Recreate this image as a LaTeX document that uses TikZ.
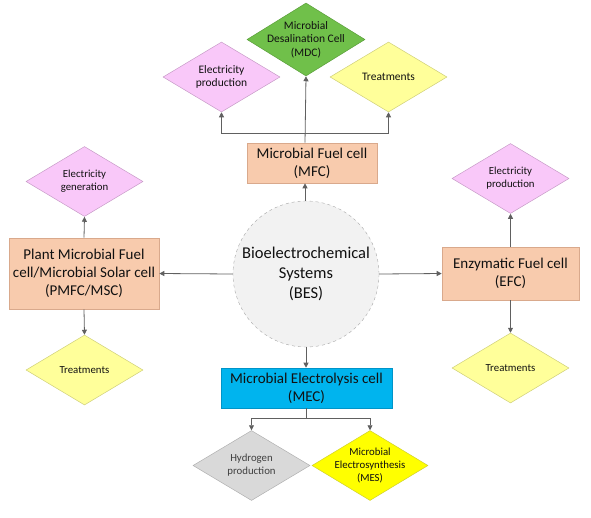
\documentclass[tikz,border=0pt]{standalone}
\usepackage{fontspec}
\setmainfont{Carlito}
\usetikzlibrary{shapes.geometric,arrows.meta}
\definecolor{peach}{HTML}{F8CBAD}
\definecolor{peachb}{HTML}{D9A98C}
\definecolor{pinkf}{HTML}{F9C8F9}
\definecolor{pinkb}{HTML}{C79BC7}
\definecolor{greenf}{HTML}{70C04A}
\definecolor{greenb}{HTML}{5A9E3A}
\definecolor{lyel}{HTML}{FFFF9A}
\definecolor{lyelb}{HTML}{CFCF7A}
\definecolor{grayf}{HTML}{D9D9D9}
\definecolor{grayb}{HTML}{B0B0B0}
\definecolor{yelf}{HTML}{FFFF00}
\definecolor{yelb}{HTML}{CFCF30}
\definecolor{cyanf}{HTML}{00B4EE}
\definecolor{cyanb}{HTML}{0094C8}
\definecolor{arr}{HTML}{606060}
\definecolor{txt}{HTML}{111111}
\tikzset{
  box/.style={draw=#1, line width=0.6pt, rectangle, inner sep=0pt, align=center,
    font=\fontsize{15}{18}\selectfont, text=txt},
  dia/.style={diamond, draw=#1, line width=0.5pt, inner sep=0pt,
    minimum width=117pt, minimum height=70pt},
  dtext/.style={align=center, font=\fontsize{10.8}{13}\selectfont, text=txt, inner sep=0pt},
  conn/.style={draw=arr, line width=0.8pt, -{Triangle[length=5pt,width=5pt]}},
  seg/.style={draw=arr, line width=0.8pt}
}
\begin{document}
\begin{tikzpicture}[x=1pt,y=-1pt]
\useasboundingbox (0,0) rectangle (591,517);
% central circle
\node[circle, draw=gray!70, dashed, fill=black!5, minimum size=146pt, inner sep=0pt,
  align=center, font=\fontsize{16.5}{20}\selectfont, text=txt] (bes) at (306,274)
  {Bioelectrochemical\\Systems\\(BES)};
% boxes
\node[box=peachb, fill=peach, minimum width=130pt, minimum height=40pt] (mfc) at (312,163) {Microbial Fuel cell\\(MFC)};
\node[box=peachb, fill=peach, minimum width=150pt, minimum height=71pt] (pmfc) at (84,273.5) {Plant Microbial Fuel\\cell/Microbial Solar cell\\(PMFC/MSC)};
\node[box=peachb, fill=peach, minimum width=137pt, minimum height=53pt] (efc) at (510.5,273.5) {Enzymatic Fuel cell\\(EFC)};
\node[box=cyanb, fill=cyanf, minimum width=171pt, minimum height=40pt] (mec) at (306.5,388) {Microbial Electrolysis cell\\(MEC)};
% diamonds
\node[dia=greenb, fill=greenf, minimum width=118pt, minimum height=73pt] (mdc) at (306,39.5) {};
\node[dtext, font=\fontsize{11.5}{13.5}\selectfont] at (mdc) {Microbial\\Desalination Cell\\(MDC)};
\node[dia=pinkb, fill=pinkf] (ep1) at (221.5,77) {};
\node[dtext, font=\fontsize{11.5}{13}\selectfont] at (ep1) {Electricity\\production};
\node[dia=lyelb, fill=lyel] (tr1) at (388.5,77) {};
\node[dtext, font=\fontsize{11.5}{13}\selectfont] at (tr1) {Treatments};
\node[dia=pinkb, fill=pinkf] (eg) at (84.5,181.5) {};
\node[dtext] at (eg) {Electricity\\generation};
\node[dia=lyelb, fill=lyel] (tr2) at (84.5,370) {};
\node[dtext] at (tr2) {Treatments};
\node[dia=pinkb, fill=pinkf] (ep2) at (510.5,178.5) {};
\node[dtext] at (ep2) {Electricity\\production};
\node[dia=lyelb, fill=lyel] (tr3) at (510.5,368) {};
\node[dtext] at (tr3) {Treatments};
\node[dia=grayb, fill=grayf] (h2) at (251.5,465.5) {};
\node[dtext, text=black!75] at (h2) {Hydrogen\\production};
\node[dia=yelb, fill=yelf, minimum width=116pt] (mes) at (370,465.5) {};
\node[dtext] at (mes) {Microbial\\Electrosynthesis\\(MES)};
% connectors from BES
\coordinate (btop) at (305,201);
\draw[conn] (bes.north -| btop) -- (btop |- mfc.south);
\draw[conn] (bes.west) -- (pmfc.east);
\draw[conn] (bes.east) -- (efc.west);
\draw[conn] (bes.south) -- (bes.south |- mec.north);
% MFC branches
\coordinate (mtop) at (305,143);
\coordinate (mj) at (305,133);
\draw[conn] (mtop |- mfc.north) -- (mdc.south);
\draw[conn] (mj) -| (ep1.south);
\draw[conn] (mj) -| (tr1.south);
% PMFC
\draw[conn] (pmfc.north) -- (eg.south);
\draw[conn] (pmfc.south) -- (tr2.north);
% EFC
\draw[conn] (efc.north) -- (ep2.south);
\draw[conn] (efc.south) -- (tr3.north);
% MEC branches
\coordinate (ej) at (306,418);
\draw[seg] (ej |- mec.south) -- (ej);
\draw[conn] (ej) -| (h2.north);
\draw[conn] (ej) -| (mes.north);
\end{tikzpicture}
\end{document}
